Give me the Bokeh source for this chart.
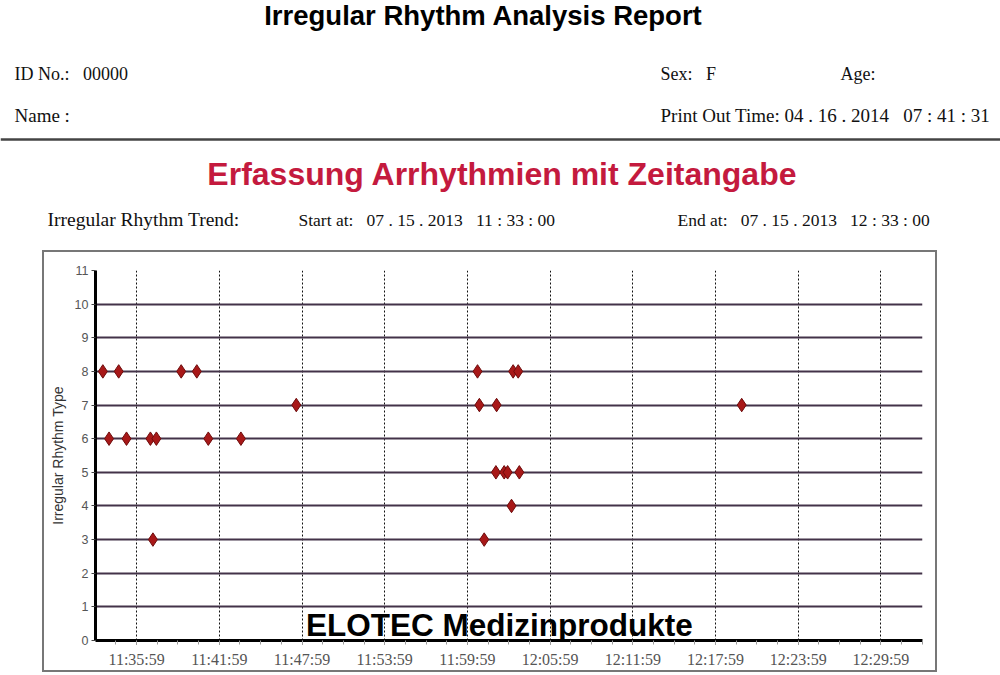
from datetime import datetime, timedelta
from bokeh.plotting import figure
from bokeh.models import Range1d, FixedTicker, DatetimeTickFormatter, Label, Spacer, ColumnDataSource, Span
from bokeh.layouts import column, row
from bokeh.embed import file_html
from bokeh.resources import INLINE
from bokeh.core.properties import value

# ---------------- data ----------------
report_title = "Irregular Rhythm Analysis Report"
chart_title = "Erfassung Arrhythmien mit Zeitangabe"
watermark = "ELOTEC Medizinprodukte"
record_date = "2013-07-15"
start_time = "11:33:00"
end_time = "12:33:00"

event_times = [
    "11:33:32", "11:34:41", "11:39:13", "11:40:21", "12:00:43", "12:03:18", "12:03:40",
    "11:47:34", "12:00:51", "12:02:06", "12:19:53",
    "11:33:59", "11:35:15", "11:36:59", "11:37:25", "11:41:11", "11:43:33",
    "12:02:03", "12:02:39", "12:02:54", "12:03:45",
    "12:03:11",
    "11:37:10", "12:01:12",
]
event_types = [
    8, 8, 8, 8, 8, 8, 8,
    7, 7, 7, 7,
    6, 6, 6, 6, 6, 6,
    5, 5, 5, 5,
    4,
    3, 3,
]

x_tick_labels = ["11:35:59", "11:41:59", "11:47:59", "11:53:59", "11:59:59",
                 "12:05:59", "12:11:59", "12:17:59", "12:23:59", "12:29:59"]
y_ticks = list(range(0, 12))

# ---------------- helpers ----------------
EPOCH = datetime(1970, 1, 1)
NB = "\u00a0"


def to_dt(hms):
    return datetime.strptime(record_date + " " + hms, "%Y-%m-%d %H:%M:%S")


def to_ms(dt):
    return (dt - EPOCH).total_seconds() * 1000.0


t0 = to_dt(start_time)
t1 = to_dt(end_time)
major_ms = [to_ms(to_dt(s)) for s in x_tick_labels]
minor_ms = []
m = to_dt(x_tick_labels[0]) - timedelta(seconds=180)
while m <= t1:
    minor_ms.append(to_ms(m))
    m += timedelta(seconds=90)

SERIF = "Liberation Serif"
SANS = "Liberation Sans"

# ---------------- header ----------------
W = 1000
HH = 252
hdr = figure(width=W, height=HH, x_range=Range1d(0, W), y_range=Range1d(HH, 0),
             output_backend="svg", toolbar_location=None,
             x_axis_location=None, y_axis_location=None, min_border=0)
hdr.grid.visible = False
hdr.outline_line_color = None


def txt(x, y, s, size, font=SERIF, style="normal", color="#111111", align="left"):
    hdr.text(x=[x], y=[y], text=[s], text_font=value(font), text_font_size=f"{size}px",
             text_font_style=style, text_color=color, text_align=align, text_baseline="middle")


txt(483, 15, report_title, 27.5, SANS, "bold", "#000000", "center")
txt(14, 73, "ID No.:" + NB * 3 + "00000", 18)
txt(660, 73, "Sex:" + NB * 3 + "F", 18)
txt(840, 73, "Age:", 18)
txt(14, 115, "Name" + NB + ":", 19)
txt(660, 115, "Print Out Time: 04 . 16 . 2014" + NB * 3 + "07 : 41 : 31", 19)
hdr.add_layout(Span(location=139, dimension="width", line_color="#444444", line_width=2.5))
txt(502, 173, chart_title, 32, SANS, "bold", "#c41a3e", "center")
txt(47, 219, "Irregular Rhythm Trend:", 19.5)
txt(298, 219, "Start at:" + NB * 3 + "07 . 15 . 2013" + NB * 3 + "11 : 33 : 00", 17.5)
txt(677, 219, "End at:" + NB * 3 + "07 . 15 . 2013" + NB * 3 + "12 : 33 : 00", 17.5)

# ---------------- chart ----------------
CW, CH = 891, 418
p = figure(width=CW, height=CH, x_axis_type="datetime",
           x_range=Range1d(to_ms(t0), to_ms(t1)), y_range=Range1d(0, 11),
           output_backend="svg", toolbar_location=None,
           min_border_left=51, min_border_right=13, min_border_top=18, min_border_bottom=25)
p.outline_line_color = None
p.styles = {"outline": "2px solid #777777"}

src = ColumnDataSource(dict(t=[to_dt(s) for s in event_times], kind=event_types))
p.scatter(x="t", y="kind", source=src, marker="diamond", size=13.5,
          fill_color="#a81818", line_color="#6e0c0c", line_width=1)

# y axis
p.yaxis.ticker = FixedTicker(ticks=y_ticks)
p.yaxis.axis_line_width = 3
p.yaxis.axis_line_color = "#000000"
p.yaxis.major_tick_out = 4
p.yaxis.major_tick_in = 0
p.yaxis.major_tick_line_color = "#444444"
p.yaxis.minor_tick_line_color = None
p.yaxis.major_label_text_font = SANS
p.yaxis.major_label_text_font_size = "12.5px"
p.yaxis.major_label_text_color = "#555555"
p.yaxis.major_label_standoff = 3
p.yaxis.axis_label = "Irregular Rhythm Type"
p.yaxis.axis_label_text_font = SANS
p.yaxis.axis_label_text_font_size = "14px"
p.yaxis.axis_label_text_font_style = "normal"
p.yaxis.axis_label_text_color = "#333333"
p.yaxis.axis_label_standoff = 6

p.ygrid.ticker = FixedTicker(ticks=y_ticks[1:-1])
p.ygrid.grid_line_color = "#433248"
p.ygrid.grid_line_width = 1.8

# x axis
p.xaxis.ticker = FixedTicker(ticks=major_ms, minor_ticks=minor_ms)
fmt = "%H:%M:%S"
p.xaxis.formatter = DatetimeTickFormatter(seconds=fmt, minsec=fmt, minutes=fmt,
                                          hourmin=fmt, hours=fmt, days=fmt)
p.xaxis.axis_line_width = 3
p.xaxis.axis_line_color = "#000000"
p.xaxis.major_tick_out = 4
p.xaxis.major_tick_in = 0
p.xaxis.major_tick_line_color = "#444444"
p.xaxis.minor_tick_out = 4
p.xaxis.minor_tick_in = 0
p.xaxis.minor_tick_line_color = "#999999"
p.xaxis.major_label_text_font = SERIF
p.xaxis.major_label_text_font_size = "16px"
p.xaxis.major_label_text_color = "#555555"
p.xaxis.major_label_standoff = 6

p.xgrid.ticker = FixedTicker(ticks=major_ms)
p.xgrid.grid_line_color = "#111111"
p.xgrid.grid_line_dash = "2 2"
p.xgrid.grid_line_width = 1

p.add_layout(Label(x=to_ms(t0 + timedelta(seconds=1758)), y=0.46, text=watermark,
                   text_align="center", text_baseline="middle",
                   text_font=SANS, text_font_size="31.5px", text_font_style="bold",
                   text_color="#000000"))

layout = column(hdr, row(Spacer(width=44, height=CH), p))

open("out.html", "w").write(file_html(layout, INLINE))
